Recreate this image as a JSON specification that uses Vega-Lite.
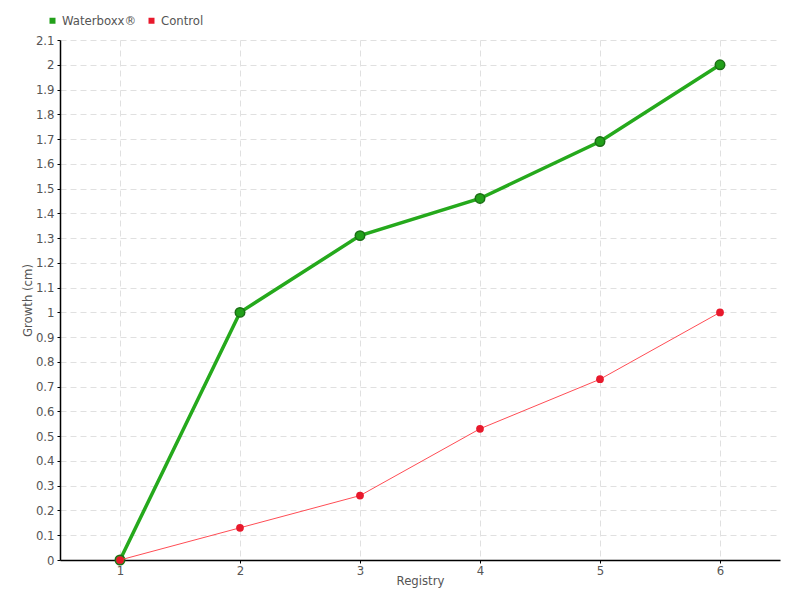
{
  "$schema": "https://vega.github.io/schema/vega-lite/v6.json",
  "width": 720,
  "height": 520,
  "autosize": {"type": "none"},
  "padding": {"left": 60, "top": 40, "right": 20, "bottom": 40},
  "background": "white",
  "config": {
    "view": {"stroke": null},
    "font": "DejaVu Sans Condensed",
    "axis": {
      "labelFont": "DejaVu Sans Condensed",
      "titleFont": "DejaVu Sans Condensed",
      "labelFontSize": 13,
      "titleFontSize": 13,
      "labelColor": "#555",
      "titleColor": "#555",
      "titleFontWeight": "normal",
      "domainColor": "#000",
      "domainWidth": 1.5,
      "tickColor": "#000",
      "tickSize": 3,
      "gridColor": "#e0e0e0",
      "gridDash": [6, 4],
      "gridWidth": 1
    },
    "legend": {
      "labelFont": "DejaVu Sans Condensed",
      "labelFontSize": 13,
      "labelColor": "#555"
    }
  },
  "data": {
    "values": [
      {"registry": 1, "growth": 0, "series": "Waterboxx®"},
      {"registry": 2, "growth": 1.0, "series": "Waterboxx®"},
      {"registry": 3, "growth": 1.31, "series": "Waterboxx®"},
      {"registry": 4, "growth": 1.46, "series": "Waterboxx®"},
      {"registry": 5, "growth": 1.69, "series": "Waterboxx®"},
      {"registry": 6, "growth": 2.0, "series": "Waterboxx®"},
      {"registry": 1, "growth": 0, "series": "Control"},
      {"registry": 2, "growth": 0.13, "series": "Control"},
      {"registry": 3, "growth": 0.26, "series": "Control"},
      {"registry": 4, "growth": 0.53, "series": "Control"},
      {"registry": 5, "growth": 0.73, "series": "Control"},
      {"registry": 6, "growth": 1.0, "series": "Control"}
    ]
  },
  "encoding": {
    "x": {
      "field": "registry",
      "type": "quantitative",
      "scale": {"domain": [0.5, 6.5], "nice": false, "zero": false},
      "axis": {"values": [1, 2, 3, 4, 5, 6], "title": "Registry", "titlePadding": -3, "labelPadding": 1, "format": "d"}
    },
    "y": {
      "field": "growth",
      "type": "quantitative",
      "scale": {"domain": [0, 2.1], "nice": false},
      "axis": {
        "values": [0, 0.1, 0.2, 0.3, 0.4, 0.5, 0.6, 0.7, 0.8, 0.9, 1, 1.1, 1.2, 1.3, 1.4, 1.5, 1.6, 1.7, 1.8, 1.9, 2, 2.1],
        "format": "~g",
        "title": "Growth (cm)",
        "titlePadding": 1,
        "labelPadding": 3
      }
    },
    "color": {
      "field": "series",
      "type": "nominal",
      "scale": {"domain": ["Waterboxx®", "Control"], "range": ["#22a01a", "#e8192c"]},
      "legend": {
        "title": null,
        "orient": "none",
        "legendX": -14,
        "legendY": -26,
        "direction": "horizontal",
        "symbolType": "square",
        "symbolSize": 36,
        "symbolOpacity": 1,
        "symbolStrokeWidth": 0,
        "columnPadding": 8,
        "labelOffset": 3
      }
    }
  },
  "layer": [
    {
      "transform": [{"filter": "datum.series === 'Waterboxx®'"}],
      "mark": {"type": "line", "strokeWidth": 3.5},
      "encoding": {"color": {"value": "#25a91c"}}
    },
    {
      "transform": [{"filter": "datum.series === 'Waterboxx®'"}],
      "mark": {"type": "point", "filled": true, "size": 90, "opacity": 1, "stroke": "#1a6e14", "strokeWidth": 1.5}
    },
    {
      "transform": [{"filter": "datum.series === 'Control'"}],
      "mark": {"type": "line", "strokeWidth": 1},
      "encoding": {"color": {"value": "#ff4d55"}}
    },
    {
      "transform": [{"filter": "datum.series === 'Control'"}],
      "mark": {"type": "point", "filled": true, "size": 60, "opacity": 1}
    }
  ]
}
